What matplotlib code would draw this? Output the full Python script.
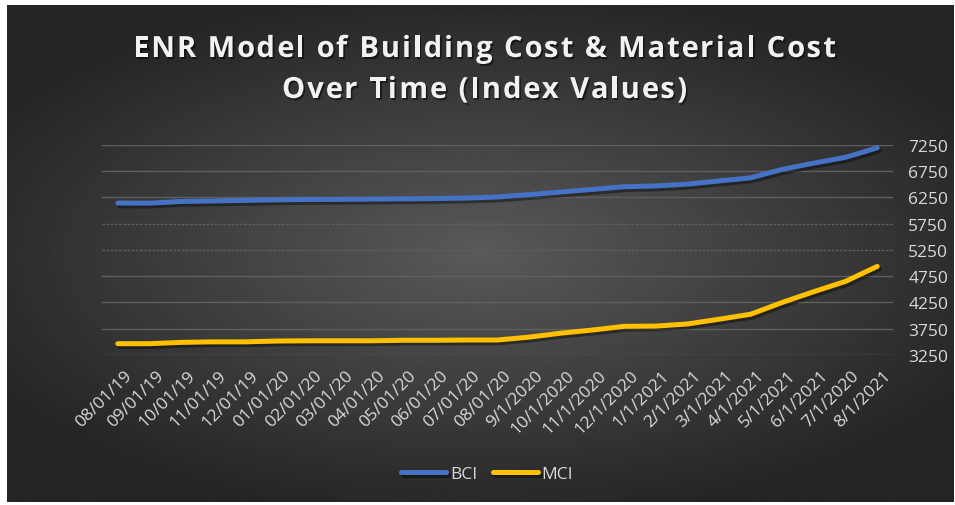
import numpy as np
import matplotlib.pyplot as plt
import matplotlib.patheffects as pe
import matplotlib.transforms as mtransforms
from matplotlib.font_manager import FontProperties

# Index values
dates = ['08/01/19', '09/01/19', '10/01/19', '11/01/19', '12/01/19', '01/01/20',
         '02/01/20', '03/01/20', '04/01/20', '05/01/20', '06/01/20', '07/01/20',
         '08/01/20', '9/1/2020', '10/1/2020', '11/1/2020', '12/1/2020', '1/1/2021',
         '2/1/2021', '3/1/2021', '4/1/2021', '5/1/2021', '6/1/2021', '7/1/2020',
         '8/1/2021']
bci = [6140, 6138, 6170, 6180, 6190, 6200, 6208, 6210, 6215, 6220, 6225, 6235,
       6255, 6300, 6350, 6400, 6450, 6465, 6500, 6560, 6620, 6780, 6900, 7010, 7190]
mci = [3465, 3465, 3490, 3500, 3500, 3515, 3520, 3520, 3520, 3530, 3530, 3535,
       3535, 3590, 3665, 3725, 3795, 3800, 3840, 3930, 4025, 4250, 4455, 4650, 4935]
yticks = [3250, 3750, 4250, 4750, 5250, 5750, 6250, 6750, 7250]
title_lines = ['ENR Model of Building Cost & Material Cost', 'Over Time (Index Values)']

plt.rcParams['font.family'] = ['Open Sans', 'DejaVu Sans']

fig = plt.figure(figsize=(9.55, 5.06), dpi=100, facecolor='white')

# Dark radial-gradient chart area
bg = fig.add_axes([7/955, 3/506, 946/955, 497/506])
yy, xx = np.mgrid[-1:1:300j, -1:1:500j]
r = np.sqrt((xx * 0.9) ** 2 + (yy * 1.0) ** 2)
shade = np.clip(0.35 - 0.19 * r, 0.145, 0.35)
bg.imshow(shade, cmap='gray', vmin=0, vmax=1, aspect='auto', extent=[0, 1, 0, 1])
bg.axis('off')

ax = fig.add_axes([102/955, 1 - 356/506, 791/955, (356 - 145.7)/506])
ax.patch.set_alpha(0)
x = np.arange(len(dates))
shadow = [pe.SimpleLineShadow(offset=(1.5, -2), shadow_color='black', alpha=0.4), pe.Normal()]
ax.plot(x, bci, color='#4472C4', lw=3.6, solid_capstyle='round', label='BCI', path_effects=shadow, zorder=3)
ax.plot(x, mci, color='#FFC000', lw=3.6, solid_capstyle='round', label='MCI', path_effects=shadow, zorder=3)

ax.set_xlim(-0.5, len(dates) - 0.5)
ax.set_ylim(3250, 7250)
for v in yticks:
    ls = (0, (2, 1)) if v in (5250, 5750) else '-'
    ax.axhline(v, color='#5f5f5f', lw=1.0, ls=ls, zorder=1)

for s in ax.spines.values():
    s.set_visible(False)
ax.yaxis.tick_right()
ax.set_yticks(yticks)
ax.set_yticklabels([str(v) for v in yticks], color='#d9d9d9', fontsize=12.5)
ax.tick_params(axis='y', length=0, pad=11)
ax.set_xticks(x)
ax.set_xticklabels(dates, rotation=45, ha='right', rotation_mode='anchor',
                   color='#d9d9d9', fontsize=12.5)
ax.tick_params(axis='x', length=0, pad=9)
shift = mtransforms.ScaledTranslation(6/100, 0, fig.dpi_scale_trans)
for lbl in ax.get_xticklabels():
    lbl.set_transform(lbl.get_transform() + shift)

# Title with letter spacing: place characters one by one
renderer = fig.canvas.get_renderer()
fp = FontProperties(family=['Open Sans', 'DejaVu Sans'], weight='bold', size=21)
title_fx = [pe.withSimplePatchShadow(offset=(1.2, -1.5), shadow_rgbFace='black', alpha=0.5)]


def text_w(s):
    t = fig.text(0, 0, s + 'x', fontproperties=fp)
    w = t.get_window_extent(renderer).width
    t.remove()
    t = fig.text(0, 0, 'x', fontproperties=fp)
    w -= t.get_window_extent(renderer).width
    t.remove()
    return w


for line, yc, target in zip(title_lines, [47, 88], [703, 405]):
    natural = text_w(line)
    track = (target - natural) / (len(line) - 1)
    x0 = 484.5 - target / 2
    for i, ch in enumerate(line):
        if ch == ' ':
            continue
        px = x0 + text_w(line[:i]) + i * track
        fig.text(px / 955, 1 - yc / 506, ch, fontproperties=fp, color='#f2f2f2',
                 ha='left', va='center_baseline', path_effects=title_fx)

leg = fig.legend(loc='center', bbox_to_anchor=(487/955, 1 - 475/506), ncol=2, frameon=False,
                 fontsize=12.5, handlelength=2.6, columnspacing=0.9, handletextpad=0.2)
for t in leg.get_texts():
    t.set_color('#d9d9d9')

fig.savefig('out.png', dpi=100, facecolor='white')
